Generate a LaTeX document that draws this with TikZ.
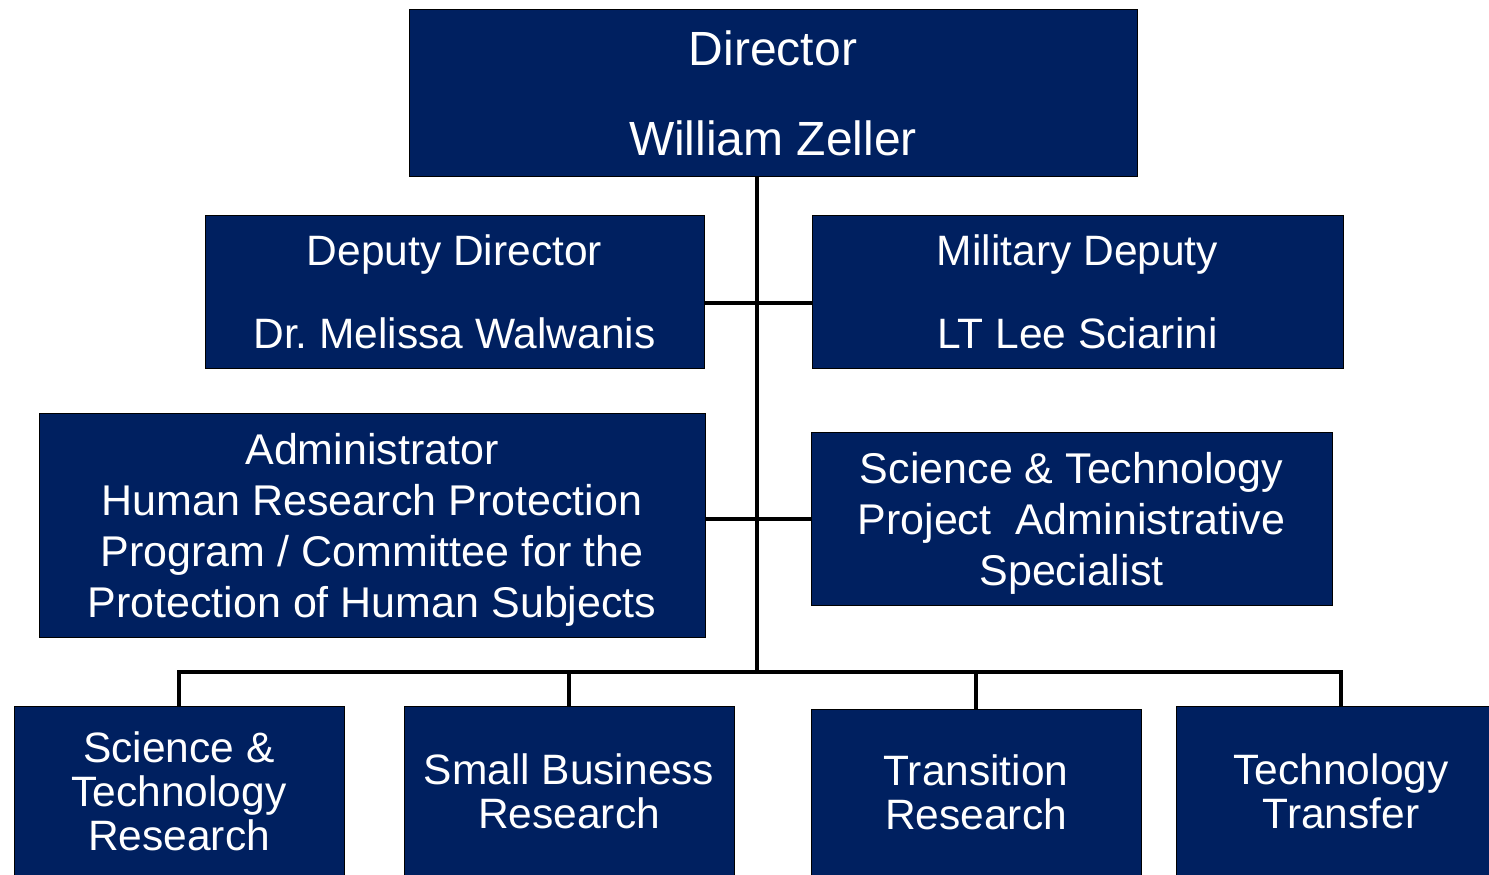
\documentclass[tikz,border=0pt]{standalone}
\usepackage{fontspec}
\setmainfont{Liberation Sans}
\usetikzlibrary{positioning}
\definecolor{navy}{RGB}{0,32,96}

\begin{document}
\begin{tikzpicture}[x=1pt,y=-1pt,
    box/.style={draw=black,line width=1pt,fill=navy,text=white,
      align=center,inner sep=0pt},
    big/.style={font=\fontsize{48}{90}\selectfont},
    pair/.style={font=\fontsize{42.5}{83}\selectfont},
    body/.style={font=\fontsize{43}{51}\selectfont,text depth=-3pt},
    unit/.style={box,minimum width=330,minimum height=170,
      font=\fontsize{42.5}{44}\selectfont},
    link/.style={line width=4pt,black}]

  \clip (0,0) rectangle (1489,875);

  \node[box,big,minimum width=728,minimum height=166] (dir) at (773,93)
    {Director\\William Zeller};
  \node[box,pair,minimum width=499,minimum height=153] (dep) at (454.5,291.5)
    {Deputy Director\\Dr.\ Melissa Walwanis};
  \node[box,pair,minimum width=531,minimum height=153] (mil) at (1077.5,291.5)
    {Military Deputy\\LT Lee Sciarini};
  \node[box,body,minimum width=666,minimum height=224] (adm) at (372,525)
    {Administrator\\Human Research Protection\\Program / Committee for the\\Protection of Human Subjects};
  \node[box,body,minimum width=521,minimum height=173] (pas) at (1071.5,518.5)
    {Science \& Technology\\Project~ Administrative\\Specialist};

  \node[unit] (str) at (179,791) {Science \&\\Technology\\Research};
  \node[unit] (sbr) at (569,791) {Small Business\\Research};
  \node[unit,minimum height=166] (trn) at (976,792) {Transition\\Research};
  \node[unit] (ttr) at (1341,791) {Technology\\Transfer};

  \coordinate (bus) at (757,672);
  \coordinate (dj) at (757,303);

  \draw[link] (dir.south -| bus) -- (bus);
  \draw[link] (dep.east |- dj) -- (mil.west |- dj);
  \draw[link] (adm.east |- pas.west) -- (pas.west);
  \draw[link] (str.north) |- (ttr.north |- bus) -- (ttr.north);
  \draw[link] (sbr.north) -- (sbr.north |- bus);
  \draw[link] (trn.north) -- (trn.north |- bus);

\end{tikzpicture}
\end{document}
